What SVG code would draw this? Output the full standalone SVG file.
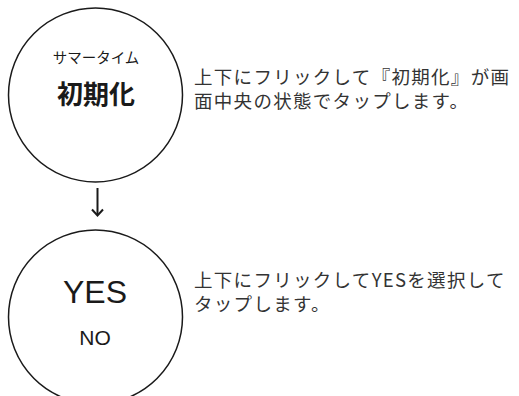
<svg xmlns="http://www.w3.org/2000/svg" width="519" height="396" viewBox="0 0 519 396">
<style>
.c{fill:#fff;stroke:#1a1a1a;stroke-width:1.5}
.t{font-family:"Noto Sans CJK JP","Liberation Sans",sans-serif;fill:#1a1a1a;text-anchor:middle}
.y{font-family:"Liberation Sans",Arial,sans-serif;fill:#1a1a1a;text-anchor:middle}
.d{font-family:"Noto Sans CJK JP",sans-serif;fill:#333;font-size:18.5px;letter-spacing:1.3px}
.l{fill:none;stroke:#1a1a1a;stroke-width:2}
</style>
<rect width="519" height="396" fill="#fff"/>
<g id="node1">
<circle class="c" cx="95.5" cy="95" r="87"/>
<text class="t" x="96" y="63" font-size="14.5">サマータイム</text>
<text class="t" x="96" y="104" font-size="26" font-weight="bold">初期化</text>
<text class="d"><tspan x="194" y="84">上下にフリックして『初期化』が画</tspan><tspan x="194" y="108">面中央の状態でタップします。</tspan></text>
</g>
<g id="node2">
<circle class="c" cx="95.5" cy="317" r="87"/>
<text class="y" x="95" y="303" font-size="32">YES</text>
<text class="y" x="95" y="345" font-size="21">NO</text>
<text class="d"><tspan x="194" y="287">上下にフリックしてYESを選択して</tspan><tspan x="194" y="311">タップします。</tspan></text>
</g>
<g id="connectors">
<path class="l" d="M97.5 188V215"/>
<path class="l" d="M92 209.5L97.5 215.5L103 209.5"/>
</g>
</svg>
